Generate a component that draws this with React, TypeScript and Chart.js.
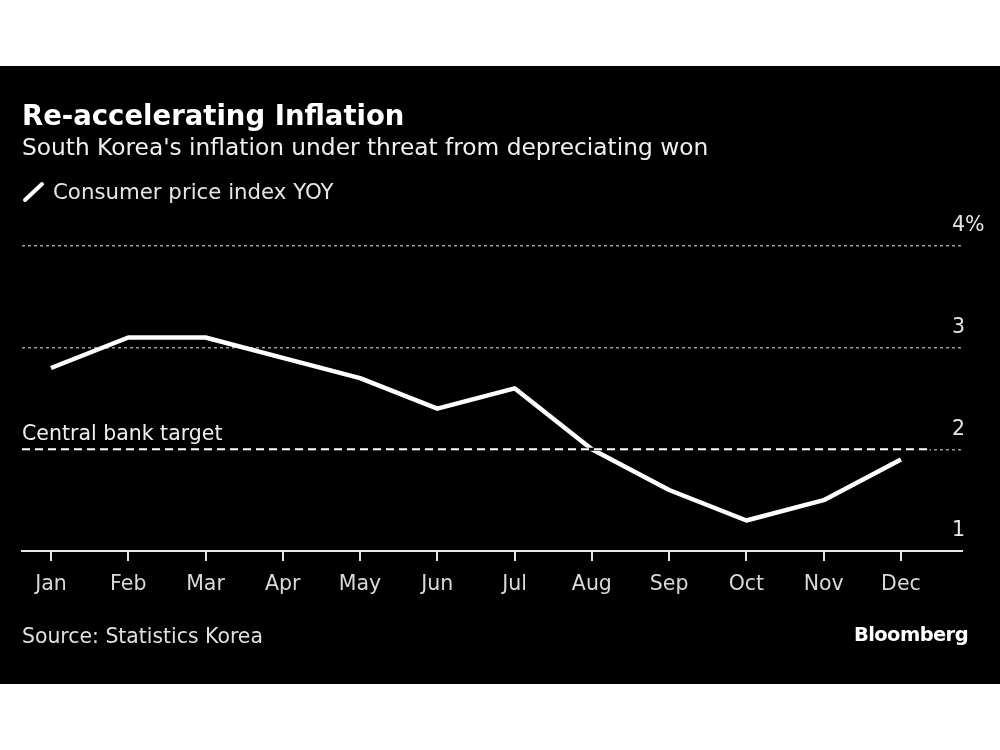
import React, { useEffect, useRef } from "react";
import { Chart, registerables } from "chart.js";

Chart.register(...registerables);

const months = ["Jan", "Feb", "Mar", "Apr", "May", "Jun", "Jul", "Aug", "Sep", "Oct", "Nov", "Dec"];
const cpiYoy = [2.8, 3.1, 3.1, 2.9, 2.7, 2.4, 2.6, 2.0, 1.6, 1.3, 1.5, 1.9];
const yTicks = [1, 2, 3, 4];
const yTickLabels = ["1", "2", "3", "4%"];
const centralBankTarget = 2;

const FONT = "'DejaVu Sans', sans-serif";

const overlayPlugin = {
  id: "overlay",
  afterDatasetsDraw(chart: any) {
    const { ctx, chartArea, scales } = chart;
    const y = scales.y.getPixelForValue(centralBankTarget);
    const xEnd = scales.x.getPixelForValue(months.length - 1 + 0.37);
    ctx.save();
    ctx.strokeStyle = "#000000";
    ctx.lineWidth = 3;
    ctx.beginPath();
    ctx.moveTo(chartArea.left, y);
    ctx.lineTo(xEnd, y);
    ctx.stroke();
    ctx.strokeStyle = "#ffffff";
    ctx.lineWidth = 2;
    ctx.setLineDash([8, 5]);
    ctx.beginPath();
    ctx.moveTo(chartArea.left, y);
    ctx.lineTo(xEnd, y);
    ctx.stroke();
    ctx.setLineDash([]);
    ctx.fillStyle = "#f0f0f0";
    ctx.font = "20.5px " + FONT;
    ctx.textAlign = "left";
    ctx.textBaseline = "alphabetic";
    ctx.fillText("Central bank target", chartArea.left, y - 9);
    ctx.restore();
  },
  afterDraw(chart: any) {
    const { ctx, chartArea, scales } = chart;
    ctx.save();
    ctx.fillStyle = "#e6e6e6";
    ctx.font = "20.5px " + FONT;
    ctx.textAlign = "left";
    ctx.textBaseline = "middle";
    scales.y.ticks.forEach((t: any) => {
      const idx = yTicks.indexOf(t.value);
      if (idx < 0) return;
      ctx.fillText(yTickLabels[idx], chartArea.right - 10, scales.y.getPixelForValue(t.value) - 20);
    });
    ctx.restore();
  },
};

export default function App() {
  const ref = useRef<HTMLCanvasElement | null>(null);

  useEffect(() => {
    if (!ref.current) return;
    const chart = new Chart(ref.current, {
      type: "line",
      data: {
        datasets: [
          {
            label: "Consumer price index YOY",
            data: cpiYoy.map((v, i) => ({ x: i, y: v })),
            borderColor: "#ffffff",
            borderWidth: 4.5,
            pointRadius: 0,
            tension: 0,
            borderJoinStyle: "round",
            borderCapStyle: "butt",
            fill: false,
          },
        ],
      },
      options: {
        animation: false,
        responsive: false,
        maintainAspectRatio: false,
        layout: { padding: { left: 22, top: 180, right: 0, bottom: 0 } },
        plugins: {
          legend: { display: false },
          tooltip: { enabled: false },
          title: { display: false },
        },
        scales: {
          x: {
            type: "linear",
            min: -0.375,
            max: 11.79,
            afterBuildTicks: (scale: any) => {
              scale.ticks = months.map((_, i) => ({ value: i }));
            },
            afterFit: (scale: any) => {
              scale.height = 133;
            },
            border: { display: true, color: "#e6e6e6", width: 2 },
            grid: {
              drawOnChartArea: false,
              drawTicks: true,
              tickLength: 10,
              color: "#e6e6e6",
              lineWidth: 2,
            },
            ticks: {
              autoSkip: false,
              maxRotation: 0,
              padding: 11,
              color: "#d9d9d9",
              font: { family: FONT, size: 20.5 },
              callback: (v: any) => months[v as number] ?? "",
            },
          },
          y: {
            position: "right",
            min: 1,
            max: 4,
            afterBuildTicks: (scale: any) => {
              scale.ticks = yTicks.map((v) => ({ value: v }));
            },
            afterFit: (scale: any) => {
              scale.width = 38;
            },
            border: { display: false, dash: [3, 3] },
            grid: {
              drawTicks: false,
              color: "#9a9a9a",
              lineWidth: 1.5,
            },
            ticks: { display: false },
          },
        },
      },
      plugins: [overlayPlugin],
    } as any);
    return () => chart.destroy();
  }, []);

  return (
    <div style={{ position: "absolute", top: 0, left: 0, width: 1000, height: 750, background: "#ffffff", fontFamily: FONT }}>
      <div style={{ position: "absolute", top: 66, left: 0, width: 1000, height: 618, background: "#000000" }}>
        <canvas ref={ref} width={1000} height={618} style={{ position: "absolute", top: 0, left: 0, width: 1000, height: 618 }} />
        <div style={{ position: "absolute", left: 22, top: 33, color: "#ffffff", fontWeight: "bold", fontSize: 27.5, whiteSpace: "nowrap", lineHeight: "32px" }}>
          Re-accelerating Inflation
        </div>
        <div style={{ position: "absolute", left: 22, top: 67, color: "#f0f0f0", fontSize: 23.3, whiteSpace: "nowrap", lineHeight: "28px" }}>
          South Korea's inflation under threat from depreciating won
        </div>
        <div style={{ position: "absolute", left: 22, top: 113, color: "#e6e6e6", fontSize: 21.3, whiteSpace: "nowrap", lineHeight: "26px", display: "flex", alignItems: "center" }}>
          <svg width="24" height="22" style={{ marginRight: 7 }}>
            <line x1="3" y1="19" x2="20" y2="3" stroke="#ffffff" strokeWidth="4" strokeLinecap="round" />
          </svg>
          Consumer price index YOY
        </div>
        <div style={{ position: "absolute", left: 22, top: 557, color: "#e0e0e0", fontSize: 20.4, whiteSpace: "nowrap", lineHeight: "26px" }}>
          Source: Statistics Korea
        </div>
        <div style={{ position: "absolute", right: 32, top: 556, color: "#ffffff", fontSize: 19.5, fontWeight: "bold", whiteSpace: "nowrap", lineHeight: "26px", letterSpacing: -0.6 }}>
          Bloomberg
        </div>
      </div>
    </div>
  );
}
